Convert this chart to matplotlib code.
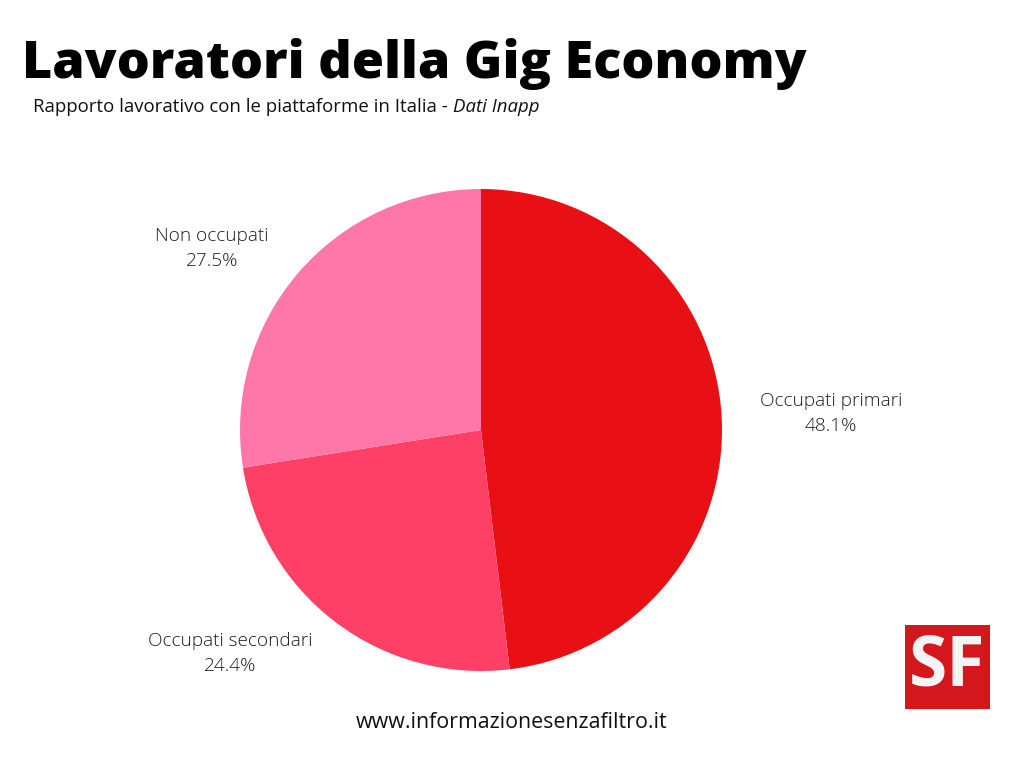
import matplotlib
matplotlib.use("Agg")
import matplotlib.pyplot as plt
from matplotlib.patches import Rectangle
import numpy as np

categories = ["Occupati primari", "Occupati secondari", "Non occupati"]
values = [48.1, 24.4, 27.5]
colors = ["#E81015", "#FF4066", "#FF77A8"]

title = "Lavoratori della Gig Economy"
subtitle = "Rapporto lavorativo con le piattaforme in Italia - "
source = "Dati Inapp"
footer = "www.informazionesenzafiltro.it"

fig = plt.figure(figsize=(10.24, 7.68), dpi=100)
fig.patch.set_facecolor("white")

ax = fig.add_axes([240/1024, 97/768, 482/1024, 482/768])
wedges, _ = ax.pie(values, colors=colors, startangle=90, counterclock=False,
                   radius=1.0, wedgeprops=dict(linewidth=0))
ax.set_xlim(-1, 1)
ax.set_ylim(-1, 1)
ax.set_aspect("equal")
ax.axis("off")

d = 1.16
for w, cat, v in zip(wedges, categories, values):
    ang = np.deg2rad((w.theta1 + w.theta2) / 2)
    x, y = d * np.cos(ang), d * np.sin(ang)
    ax.text(x, y, f"{cat}\n{v}%",
            ha="left" if x > 0 else "right", va="center",
            multialignment="center", fontsize=13.7, family="Open Sans",
            fontweight="light", color="#1E1E1E", linespacing=1.5,
            clip_on=False)

fig.text(22/1024, 1 - 78/768, title, fontsize=37.5, fontweight="heavy",
         family="Open Sans", color="black", ha="left", va="baseline")
t = fig.text(33/1024, 1 - 112/768, subtitle, fontsize=13.4,
             family="Open Sans", color="#111111", ha="left", va="baseline")
fig.canvas.draw()
bb = t.get_window_extent()
fig.text(bb.x1 / 1024, 1 - 112/768, source, fontsize=13.4, style="italic",
         family="Open Sans", color="#111111", ha="left", va="baseline")

fig.text(512/1024, 1 - 722/768, footer, fontsize=15.4, family="Open Sans",
         color="#111111", ha="center", va="center")

fig.patches.append(Rectangle((905/1024, 1 - 709/768), 85/1024, 84/768,
                             transform=fig.transFigure, facecolor="#D4171C",
                             edgecolor="none"))
fig.text(947/1024, 1 - 668/768, "SF", fontsize=50, fontweight="bold",
         family="Open Sans", color="#F4F4F4", ha="center", va="center")

fig.savefig("out.png", dpi=100, facecolor="white")
